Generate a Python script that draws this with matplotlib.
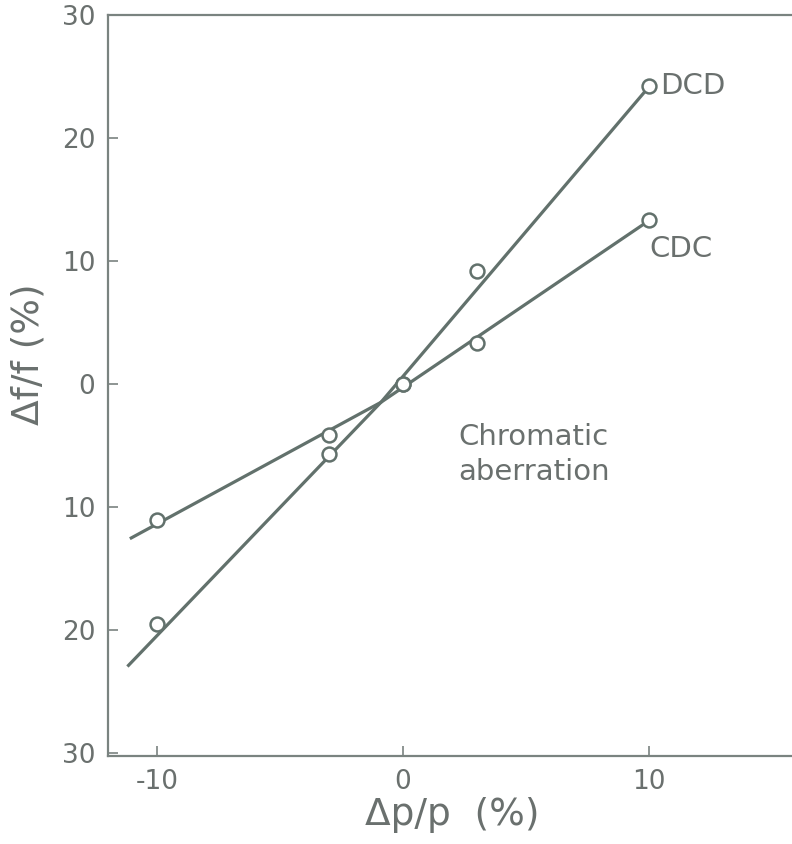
import numpy as np
import matplotlib
matplotlib.use('Agg')
import matplotlib.pyplot as plt

# Colores del trazo escaneado
COLOR_LINEA = '#62716c'
COLOR_TEXTO = '#6a706e'
COLOR_EJE = '#7a8380'

# Datos (Δp/p en %, Δf/f en %)
dp_puntos = [-10, -3, 0, 3, 10]
dcd_puntos = [-19.5, -5.7, 0.0, 9.2, 24.2]
cdc_puntos = [-11.1, -4.2, 0.0, 3.3, 13.3]

# Rectas trazadas a mano (extremos y cruce)
dcd_recta_x = [-11.2, -0.9, 10.0]
dcd_recta_y = [-23.0, -1.5, 24.2]
cdc_recta_x = [-11.1, -0.9, 10.0]
cdc_recta_y = [-12.6, -1.5, 13.3]

xticks = [-10, 0, 10]
xtick_labels = ['-10', '0', '10']
yticks = [-30, -20, -10, 0, 10, 20, 30]
ytick_labels = ['30', '20', '10', '0', '10', '20', '30']


def generar_grafico():
    fig = plt.figure(figsize=(7.92, 8.44), dpi=100)
    ax = fig.add_axes([0.136, 0.104, 0.864, 0.878])

    ax.plot(dcd_recta_x, dcd_recta_y, color=COLOR_LINEA, linewidth=2.3,
            solid_capstyle='butt', zorder=2)
    ax.plot(cdc_recta_x, cdc_recta_y, color=COLOR_LINEA, linewidth=2.3,
            solid_capstyle='butt', zorder=2)
    ax.plot(dp_puntos, dcd_puntos, 'o', markersize=10, markerfacecolor='white',
            markeredgecolor=COLOR_LINEA, markeredgewidth=1.8, zorder=3)
    ax.plot(dp_puntos, cdc_puntos, 'o', markersize=10, markerfacecolor='white',
            markeredgecolor=COLOR_LINEA, markeredgewidth=1.8, zorder=3)

    ax.set_xlim(-12.0, 15.8)
    ax.set_ylim(-30.3, 29.7)

    ax.set_xticks(xticks)
    ax.set_xticklabels(xtick_labels)
    ax.set_yticks(yticks)
    ax.set_yticklabels(ytick_labels)
    ax.tick_params(direction='in', length=7, width=1.2, color=COLOR_EJE,
                   labelsize=19, labelcolor=COLOR_TEXTO, pad=9)

    for lado in ['left', 'bottom', 'top']:
        ax.spines[lado].set_color(COLOR_EJE)
        ax.spines[lado].set_linewidth(1.6)
    ax.spines['right'].set_visible(False)

    # Etiquetas de curva y anotación
    ax.text(10.45, 24.2, 'DCD', fontsize=21, color=COLOR_TEXTO,
            ha='left', va='center')
    ax.text(10.0, 11.0, 'CDC', fontsize=21, color=COLOR_TEXTO,
            ha='left', va='center')
    ax.text(2.25, -5.75, 'Chromatic\naberration', fontsize=21,
            color=COLOR_TEXTO, ha='left', va='center', linespacing=1.3)

    fig.text(0.571, 0.034, 'Δp/p  (%)', fontsize=27, color=COLOR_TEXTO,
             ha='center', va='center')
    fig.text(0.036, 0.58, 'Δf/f (%)', fontsize=27, color=COLOR_TEXTO,
             ha='center', va='center', rotation=90)

    fig.savefig('out.png', dpi=100)
    plt.close(fig)


if __name__ == '__main__':
    generar_grafico()
